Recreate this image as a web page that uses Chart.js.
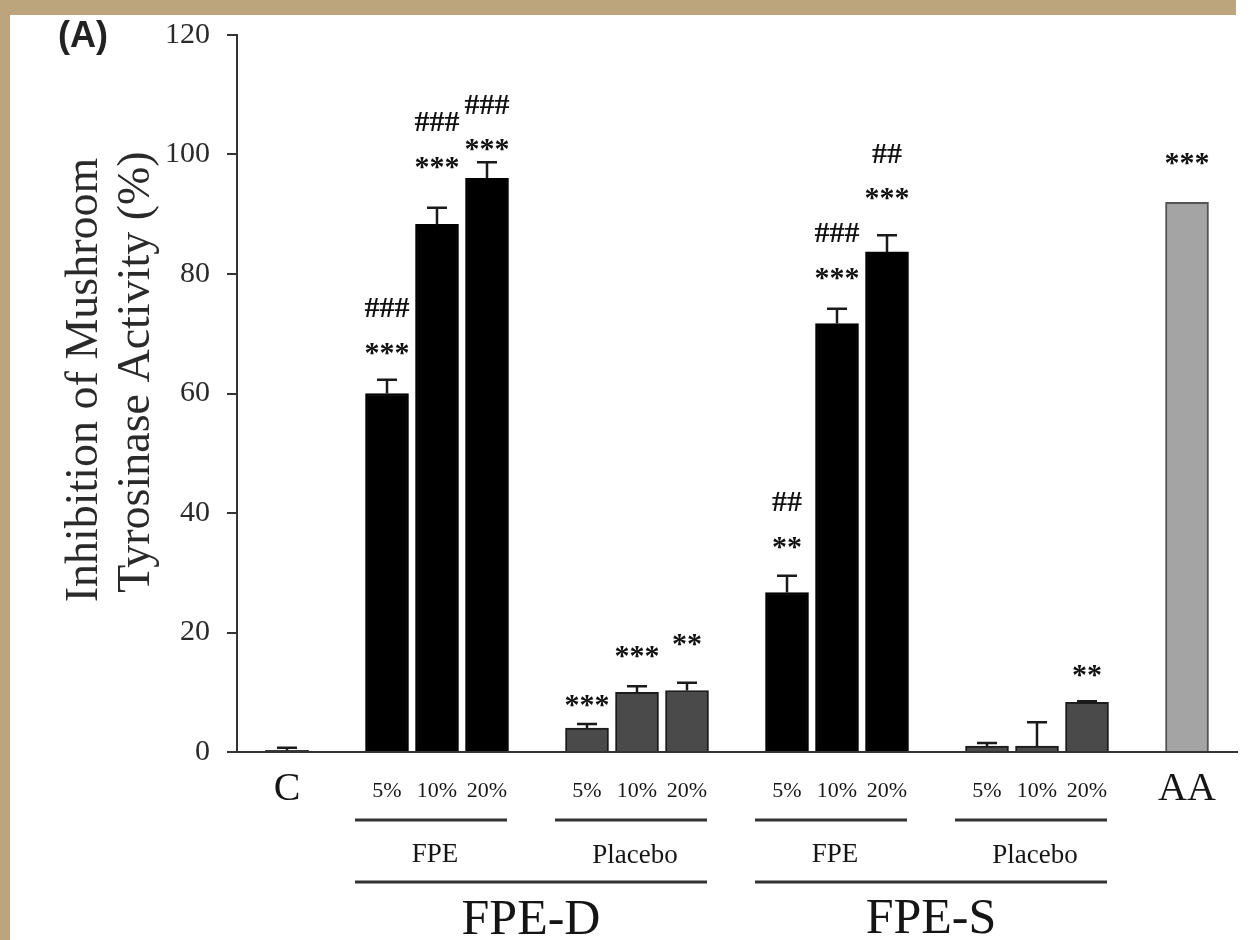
<!DOCTYPE html>
<html>
<head>
<meta charset="utf-8">
<script src="https://cdn.jsdelivr.net/npm/chart.js@4.4.1/dist/chart.umd.min.js"></script>
<style>
  html, body { margin: 0; padding: 0; background: #fff; }
  canvas { display: block; }
</style>
</head>
<body>
<canvas id="chart" width="1260" height="940"></canvas>
<script>
// slots on the x axis; empty strings are the gaps between groups
var categories = ['', 'C', '', '5%', '10%', '20%', '', '5%', '10%', '20%', '', '5%', '10%', '20%', '', '5%', '10%', '20%', '', 'AA', ''];
var values = [null, 0.3, null, 60, 88.3, 96, null, 4, 10, 10.3, null, 26.7, 71.7, 83.7, null, 1, 1, 8.3, null, 92, null];
var errors = [0, 0.4, 0, 2.3, 2.8, 2.7, 0, 0.7, 1, 1.3, 0, 2.8, 2.5, 2.8, 0, 0.5, 4, 0.2, 0, 0, 0];
var stars  = ['', '', '', '***', '***', '***', '', '***', '***', '**', '', '**', '***', '***', '', '', '', '**', '', '***', ''];
var hashes = ['', '', '', '###', '###', '###', '', '', '', '', '', '##', '###', '##', '', '', '', '', '', '', ''];
var yTicks = [0, 20, 40, 60, 80, 100, 120];

// brackets under the axis: [label, first slot, last slot]
var subGroups = [['FPE', 3, 5], ['Placebo', 7, 9], ['FPE', 11, 13], ['Placebo', 15, 17]];
var mainGroups = [['FPE-D', 3, 9], ['FPE-S', 11, 17]];

var barKind = ['', 'c', '', 'fpe', 'fpe', 'fpe', '', 'pl', 'pl', 'pl', '', 'fpe', 'fpe', 'fpe', '', 'pl', 'pl', 'pl', '', 'aa', ''];
var fillFor = { c: '#454545', fpe: '#000000', pl: '#4a4a4a', aa: '#a4a4a4' };
var edgeFor = { c: '#222222', fpe: '#000000', pl: '#1c1c1c', aa: '#555555' };

// extra space (px) between error cap and the asterisks, tuned per bar
var markGap = { 3: 31, 4: 45, 5: 17, 7: 23, 8: 34, 9: 43, 11: 33, 12: 35, 13: 41, 17: 30, 19: 43 };

function centerText(c, txt, x, y) {
    var m = c.measureText(txt);
    c.fillText(txt, x, y + (m.actualBoundingBoxAscent - m.actualBoundingBoxDescent) / 2);
}

var figurePlugin = {
    id: 'figure',
    beforeDraw: function (chart) {
        var c = chart.ctx;
        c.save();
        c.fillStyle = '#ffffff';
        c.fillRect(0, 0, chart.width, chart.height);
        c.fillStyle = '#bca57c';
        c.fillRect(0, 0, 1236, 15);
        c.fillRect(0, 0, 10, chart.height);
        c.restore();
    },
    afterDatasetsDraw: function (chart) {
        var c = chart.ctx;
        var ys = chart.scales.y;
        var bars = chart.getDatasetMeta(0).data;
        c.save();
        // error bars (upper half only)
        c.strokeStyle = '#1a1a1a';
        c.lineWidth = 2.5;
        for (var i = 0; i < values.length; i++) {
            if (values[i] === null || !errors[i]) continue;
            var x = bars[i].x;
            var top = ys.getPixelForValue(values[i]);
            var cap = ys.getPixelForValue(values[i] + errors[i]);
            c.beginPath();
            c.moveTo(x, top);
            c.lineTo(x, cap);
            c.moveTo(x - 10, cap);
            c.lineTo(x + 10, cap);
            c.stroke();
        }
        // significance marks
        c.fillStyle = '#111111';
        c.textAlign = 'center';
        c.textBaseline = 'alphabetic';
        for (var j = 0; j < values.length; j++) {
            if (!stars[j]) continue;
            var bx = bars[j].x;
            var capY = ys.getPixelForValue(values[j] + errors[j]);
            var sy = capY - (markGap[j] || 32);
            c.font = 'bold 30px "Liberation Serif"';
            centerText(c, stars[j], bx, sy);
            if (hashes[j]) {
                c.font = 'bold 30px "Liberation Serif"';
                centerText(c, hashes[j], bx, sy - 41);
            }
        }
        c.restore();
    },
    afterDraw: function (chart) {
        var c = chart.ctx;
        var xs = chart.scales.x;
        c.save();
        c.textAlign = 'center';
        c.textBaseline = 'alphabetic';
        c.fillStyle = '#151515';

        // category labels under the axis
        for (var i = 0; i < categories.length; i++) {
            var lab = categories[i];
            if (!lab) continue;
            var px = xs.getPixelForValue(i);
            if (lab === 'C' || lab === 'AA') {
                c.font = '40px "Liberation Serif"';
                centerText(c, lab, px, 787);
            } else {
                c.font = '22px "Liberation Serif"';
                centerText(c, lab, px, 790);
            }
        }

        // bracket lines and group names
        c.strokeStyle = '#333333';
        c.lineWidth = 3;
        subGroups.forEach(function (g) {
            var a = xs.getPixelForValue(g[1]) - 32;
            var b = xs.getPixelForValue(g[2]) + 20;
            c.beginPath();
            c.moveTo(a, 820);
            c.lineTo(b, 820);
            c.stroke();
            c.font = '27px "Liberation Serif"';
            centerText(c, g[0], (a + b) / 2 + 4, 853);
        });
        mainGroups.forEach(function (g) {
            var a = xs.getPixelForValue(g[1]) - 32;
            var b = xs.getPixelForValue(g[2]) + 20;
            c.beginPath();
            c.moveTo(a, 882);
            c.lineTo(b, 882);
            c.stroke();
            c.font = '50px "Liberation Serif"';
            centerText(c, g[0], (a + b) / 2, 917);
        });

        // y axis title, two lines
        c.fillStyle = '#2a2a2a';
        c.font = '46px "Liberation Serif"';
        c.save();
        c.translate(80, 380);
        c.rotate(-Math.PI / 2);
        centerText(c, 'Inhibition of Mushroom', 0, 0);
        c.restore();
        c.save();
        c.translate(137, 372);
        c.rotate(-Math.PI / 2);
        centerText(c, 'Tyrosinase Activity (%)', 0, 0);
        c.restore();

        // panel letter
        c.fillStyle = '#222222';
        c.font = 'bold 36px "Liberation Sans"';
        centerText(c, '(A)', 83, 37);
        c.restore();
    }
};

var ctx = document.getElementById('chart').getContext('2d');
var chart = new Chart(ctx, {
    type: 'bar',
    data: {
        labels: categories,
        datasets: [{
            data: values,
            backgroundColor: barKind.map(function (k) { return fillFor[k] || '#000'; }),
            borderColor: barKind.map(function (k) { return edgeFor[k] || '#000'; }),
            borderWidth: 2,
            barThickness: 43
        }]
    },
    options: {
        responsive: false,
        devicePixelRatio: 1,
        animation: false,
        layout: { padding: { top: 33, right: 23, left: 0, bottom: 0 } },
        plugins: {
            legend: { display: false },
            tooltip: { enabled: false }
        },
        scales: {
            x: {
                type: 'category',
                offset: false,
                grid: { display: false },
                border: { display: true, color: '#333333', width: 2 },
                ticks: { display: false },
                afterFit: function (s) { s.height = 188; }
            },
            y: {
                min: 0,
                max: 120,
                afterBuildTicks: function (s) { s.ticks = yTicks.map(function (v) { return { value: v }; }); },
                ticks: {
                    font: { family: 'Liberation Serif', size: 30 },
                    color: '#2a2a2a',
                    padding: 17
                },
                grid: { drawOnChartArea: false, drawTicks: true, tickLength: 10, color: '#333333', lineWidth: 2 },
                border: { display: true, color: '#333333', width: 2 },
                afterFit: function (s) { s.width = 237; }
            }
        }
    },
    plugins: [figurePlugin]
});
</script>
</body>
</html>
